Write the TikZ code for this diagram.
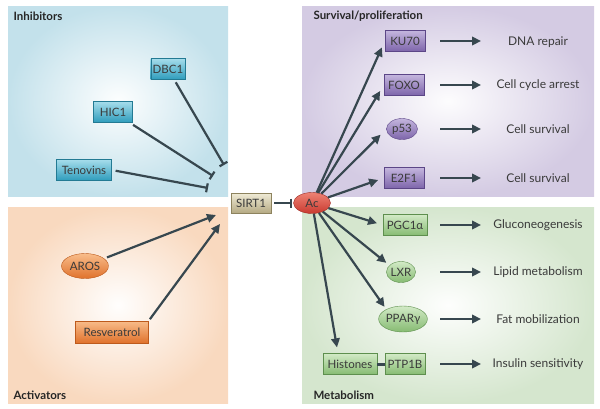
\documentclass[tikz,border=0pt]{standalone}
\usepackage{fontspec}
\setmainfont{Lato}
\usetikzlibrary{arrows.meta,shapes.geometric}

\definecolor{arrowc}{HTML}{37474F}
\definecolor{txtc}{HTML}{3A3A3A}
\definecolor{inhbg}{HTML}{C3E1EB}
\definecolor{actbg}{HTML}{F9D9BF}
\definecolor{surbg}{HTML}{D4CBE3}
\definecolor{metbg}{HTML}{D5E6CE}
\definecolor{bluetop}{HTML}{A6DDEB}
\definecolor{bluebot}{HTML}{2E9CBC}
\definecolor{blueedge}{HTML}{237A93}
\definecolor{orangetop}{HTML}{F8BC8A}
\definecolor{orangebot}{HTML}{E0722C}
\definecolor{orangeedge}{HTML}{BD5A1C}
\definecolor{purptop}{HTML}{C4B6DE}
\definecolor{purpbot}{HTML}{7D64AA}
\definecolor{purpedge}{HTML}{5C4687}
\definecolor{greentop}{HTML}{D2EAC6}
\definecolor{greenbot}{HTML}{86BB72}
\definecolor{greenedge}{HTML}{5E8F4E}
\definecolor{sirttop}{HTML}{F0EBD6}
\definecolor{sirtbot}{HTML}{B5AA84}
\definecolor{sirtedge}{HTML}{8D835E}
\definecolor{actop}{HTML}{EE8274}
\definecolor{acbot}{HTML}{C93A30}
\definecolor{acedge}{HTML}{9E2A22}

\tikzset{
  base/.style={text=txtc, font=\fontsize{11.5}{13}\selectfont, inner xsep=2pt, inner ysep=2pt},
  bluebox/.style={base, rectangle, draw=blueedge, top color=bluetop, bottom color=bluebot, minimum height=21pt, minimum width=39pt},
  orangebox/.style={base, rectangle, draw=orangeedge, top color=orangetop, bottom color=orangebot, minimum height=22pt},
  orangeell/.style={base, ellipse, draw=orangeedge, top color=orangetop, bottom color=orangebot, minimum height=25pt, minimum width=47pt, inner sep=0pt},
  purplebox/.style={base, rectangle, draw=purpedge, top color=purptop, bottom color=purpbot, minimum height=21pt, minimum width=40pt},
  purpleell/.style={base, ellipse, draw=purpedge, top color=purptop, bottom color=purpbot, minimum height=21pt, minimum width=31pt, inner sep=0pt},
  greenbox/.style={base, rectangle, draw=greenedge, top color=greentop, bottom color=greenbot, minimum height=21pt, minimum width=40pt},
  greenell/.style={base, ellipse, draw=greenedge, top color=greentop, bottom color=greenbot, minimum height=21pt, minimum width=29pt, inner sep=0pt},
  outcome/.style={text=txtc, font=\fontsize{12}{14}\selectfont},
  ptitle/.style={text=black!85, font=\bfseries\fontsize{11.5}{13}\selectfont, anchor=west},
  fx/.style={line width=2.2pt, draw=arrowc, -{Triangle[length=9pt,width=8.5pt]}},
  block/.style={line width=2.2pt, draw=arrowc, -{Bar[width=9pt,line width=2.2pt]}}
}

\begin{document}
\begin{tikzpicture}[x=1pt, y=-1pt]
  \useasboundingbox (0,0) rectangle (600,408);

  % panels
  \shade[inner color=white!96!inhbg, outer color=inhbg] (8,6) rectangle (228,196);
  \shade[inner color=white!97!actbg, outer color=actbg] (8,207) rectangle (228,403);
  \shade[inner color=white!95!surbg, outer color=surbg] (302,6) rectangle (594,196);
  \shade[inner color=white!96!metbg, outer color=metbg] (302,207) rectangle (594,403);

  \node[ptitle] (tinh) at (10,16) {Inhibitors};
  \node[ptitle] (tact) at (10,395) {Activators};
  \node[ptitle] (tsur) at (310,16) {Survival/proliferation};
  \node[ptitle] (tmet) at (310,395) {Metabolism};

  % inhibitors and activators
  \node[bluebox, minimum width=30pt] (dbc) at (168,69) {DBC1};
  \node[bluebox] (hic) at (113,112) {HIC1};
  \node[bluebox, minimum width=55pt] (ten) at (84,170) {Tenovins};
  \node[orangeell] (aros) at (85,266) {AROS};
  \node[orangebox, minimum width=73pt] (res) at (112,332) {Resveratrol};

  \coordinate (bdbc) at (224,165);
  \coordinate (bhic) at (213,176);
  \coordinate (bten) at (208,188);
  \coordinate (earos) at (216,215);
  \coordinate (eres) at (220,224);

  \draw[block, shorten <=3pt] (dbc) -- (bdbc);
  \draw[block, shorten <=4pt] (hic) -- (bhic);
  \draw[block, shorten <=4pt] (ten.east) -- (bten);
  \draw[fx, shorten <=3pt] (aros) -- (earos);
  \draw[fx, shorten <=2pt] (res.north east) -- (eres);

  % SIRT1 and Ac
  \node[base, rectangle, draw=sirtedge, top color=sirttop, bottom color=sirtbot, minimum width=40pt, minimum height=20pt] (sirt) at (251,203) {SIRT1};
  \node[base, ellipse, draw=acedge, top color=actop, bottom color=acbot, minimum width=37pt, minimum height=21pt, inner sep=0pt] (ac) at (312,203) {Ac};
  \draw[block, shorten <=3pt, shorten >=1pt] (sirt) -- (ac);

  % targets
  \node[purplebox] (ku) at (405,41) {KU70};
  \node[purplebox] (foxo) at (404,85) {FOXO};
  \node[purpleell] (p53) at (402,129) {p53};
  \node[purplebox] (e2f) at (404,178) {E2F1};
  \node[greenbox, minimum width=44pt] (pgc) at (405,225) {PGC1α};
  \node[greenell] (lxr) at (401,272) {LXR};
  \node[greenell, minimum width=45pt, minimum height=26pt] (ppar) at (403,319) {PPARγ};
  \node[greenbox, minimum width=54pt] (his) at (350,364) {Histones};
  \node[greenbox] (ptp) at (405,364) {PTP1B};
  \draw[line width=3pt, arrowc] (his) -- (ptp);

  \draw[fx, shorten >=7pt] (ac) -- (ku.west);
  \draw[fx, shorten >=7pt] (ac) -- (foxo.west);
  \draw[fx, shorten >=8pt] (ac) -- (p53.west);
  \draw[fx, shorten >=6pt] (ac) -- (e2f.west);
  \draw[fx, shorten >=6pt] (ac) -- (pgc.west);
  \draw[fx, shorten >=4pt] (ac) -- (lxr.150);
  \draw[fx, shorten >=3pt] (ac) -- (ppar.150);
  \draw[fx, shorten >=6pt] (ac) -- ([xshift=-12pt]his.north);

  % outcomes
  \coordinate (al) at (440,0);
  \coordinate (ar) at (481,0);
  \node[outcome] (o1) at (538,42) {DNA repair};
  \node[outcome] (o2) at (538,85) {Cell cycle arrest};
  \node[outcome] (o3) at (538,129) {Cell survival};
  \node[outcome] (o4) at (538,178) {Cell survival};
  \node[outcome] (o5) at (538,225) {Gluconeogenesis};
  \node[outcome] (o6) at (538,272) {Lipid metabolism};
  \node[outcome] (o7) at (538,319) {Fat mobilization};
  \node[outcome] (o8) at (538,364) {Insulin sensitivity};

  \foreach \t in {ku,foxo,p53,e2f,pgc,lxr,ppar,ptp} {
    \draw[fx] (al |- \t) -- (ar |- \t);
  }
\end{tikzpicture}
\end{document}
